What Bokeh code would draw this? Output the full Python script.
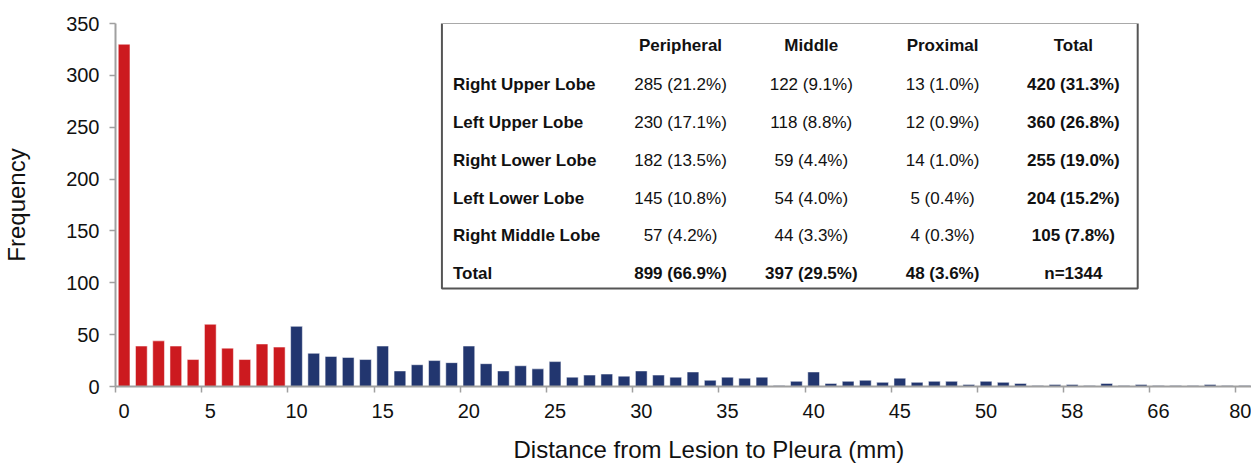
from bokeh.plotting import figure
from bokeh.models import Range1d, FixedTicker, BoxAnnotation, ColumnDataSource, Title
from bokeh.embed import file_html
from bokeh.resources import INLINE
from bokeh.core.properties import value

# ---------------- data ----------------
categories = list(range(51)) + [51, 52, 53, 55, 58, 59, 60, 62, 64, 66, 68, 70, 72, 75, 80]
frequency = [330, 39, 44, 39, 26, 60, 37, 26, 41, 38,
             58, 32, 29, 28, 26, 39, 15, 21, 25, 23,
             39, 22, 15, 20, 17, 24, 9, 11, 12, 10,
             15, 11, 9, 14, 6, 9, 8, 9, 1, 5,
             14, 3, 5, 6, 4, 8, 4, 5, 5, 2,
             5, 4, 3, 1, 2, 2, 1, 3, 1, 2,
             1, 1, 1, 2, 1, 1]
red_below = 10  # distances < 10 mm drawn red

x_title = "Distance from Lesion to Pleura (mm)"
y_title = "Frequency"
table_header = ["Peripheral", "Middle", "Proximal", "Total"]
table_rows = ["Right Upper Lobe", "Left Upper Lobe", "Right Lower Lobe",
              "Left Lower Lobe", "Right Middle Lobe", "Total"]
col_peripheral = ["285 (21.2%)", "230 (17.1%)", "182 (13.5%)", "145 (10.8%)", "57 (4.2%)", "899 (66.9%)"]
col_middle = ["122 (9.1%)", "118 (8.8%)", "59 (4.4%)", "54 (4.0%)", "44 (3.3%)", "397 (29.5%)"]
col_proximal = ["13 (1.0%)", "12 (0.9%)", "14 (1.0%)", "5 (0.4%)", "4 (0.3%)", "48 (3.6%)"]
col_total = ["420 (31.3%)", "360 (26.8%)", "255 (19.0%)", "204 (15.2%)", "105 (7.8%)", "n=1344"]

# ---------------- layout ----------------
W, H = 1251, 475
FL, FT, FB = 113, 23, 89
X_END = 65.4
FW = W - FL
FH = H - FT - FB
FONT = "Liberation Sans"

def dx(px):
    return -0.5 + (px - FL) * (X_END + 0.5) / FW

def dy(py):
    return (FT + FH - py) * 350 / FH

idx = list(range(len(frequency)))
colors = ["#CC1A1F" if c < red_below else "#22366F" for c in categories]
src = ColumnDataSource(dict(x=idx, top=frequency, color=colors))

p = figure(width=W, height=H, output_backend="svg", toolbar_location=None,
           x_range=Range1d(-0.5, X_END), y_range=Range1d(0, 350),
           min_border_left=FL, min_border_top=FT, min_border_bottom=FB, min_border_right=0)
p.outline_line_color = None
p.xgrid.visible = False
p.ygrid.visible = False
p.background_fill_color = "white"

p.vbar(x="x", top="top", width=0.68, bottom=0, fill_color="color",
       line_color="white", line_alpha=0.5, line_width=1, source=src)

# x axis: labels every 5 categories, tick marks between categories
major = list(range(0, len(categories), 5))
minor = [m - 0.5 for m in major]
p.xaxis.ticker = FixedTicker(ticks=major, minor_ticks=minor)
p.xaxis.major_label_overrides = {i: str(categories[i]) for i in major}
p.xaxis.major_tick_line_color = None
p.xaxis.major_tick_in = 0
p.xaxis.major_tick_out = 0
p.xaxis.minor_tick_in = 0
p.xaxis.minor_tick_out = 6
p.xaxis.minor_tick_line_color = "#a0a0a0"
p.xaxis.minor_tick_line_width = 1.5
p.xaxis.major_label_standoff = 11

# x title placed as a below-title (the original's title is centred on a wider plot)
xt = Title(text=x_title, align="left", offset=398, standoff=26,
           text_font=FONT, text_font_size="24px", text_font_style="normal",
           text_color="#111111")
p.add_layout(xt, "below")

p.yaxis.ticker = FixedTicker(ticks=list(range(0, 351, 50)))
p.yaxis.minor_tick_line_color = None
p.yaxis.major_tick_in = 0
p.yaxis.major_tick_out = 6
p.yaxis.major_tick_line_color = "#a0a0a0"
p.yaxis.major_tick_line_width = 1.5
p.yaxis.major_label_standoff = 10
p.yaxis.axis_label = y_title
p.yaxis.axis_label_standoff = 33

for ax in (p.xaxis, p.yaxis):
    ax.axis_line_color = "#a0a0a0"
    ax.axis_line_width = 2
    ax.major_label_text_font = FONT
    ax.major_label_text_font_size = "20px"
    ax.major_label_text_color = "#111111"
    ax.axis_label_text_font = FONT
    ax.axis_label_text_font_size = "24px"
    ax.axis_label_text_font_style = "normal"
    ax.axis_label_text_color = "#111111"

# ---------------- table ----------------
box = BoxAnnotation(left=dx(440), right=dx(1137), top=dy(22.5), bottom=dy(288),
                    fill_color="white", fill_alpha=1.0,
                    line_color="#555555", line_alpha=1.0, line_width=2,
                    level="underlay")
p.add_layout(box)

col_x = [679, 810, 941.5, 1072.5]
row_y = [84, 122, 160, 198, 235, 273]
header_y = 45
label_x = 451

def put(xs, ys, texts, bold, align):
    p.text(x=xs, y=ys, text=texts, text_font=value(FONT), text_font_size="17px",
           text_font_style="bold" if bold else "normal", text_align=align,
           text_baseline="middle", text_color="#111111")

put([dx(c) for c in col_x], [dy(header_y)] * 4, table_header, True, "center")
put([dx(label_x)] * len(table_rows), [dy(r) for r in row_y], table_rows, True, "left")
normal_x, normal_y, normal_t = [], [], []
bold_x, bold_y, bold_t = [], [], []
for ci, col in enumerate([col_peripheral, col_middle, col_proximal, col_total]):
    for ri, txt in enumerate(col):
        if ci == 3 or ri == len(table_rows) - 1:
            bold_x.append(dx(col_x[ci])); bold_y.append(dy(row_y[ri])); bold_t.append(txt)
        else:
            normal_x.append(dx(col_x[ci])); normal_y.append(dy(row_y[ri])); normal_t.append(txt)
put(normal_x, normal_y, normal_t, False, "center")
put(bold_x, bold_y, bold_t, True, "center")

open("out.html", "w").write(file_html(p, INLINE))
